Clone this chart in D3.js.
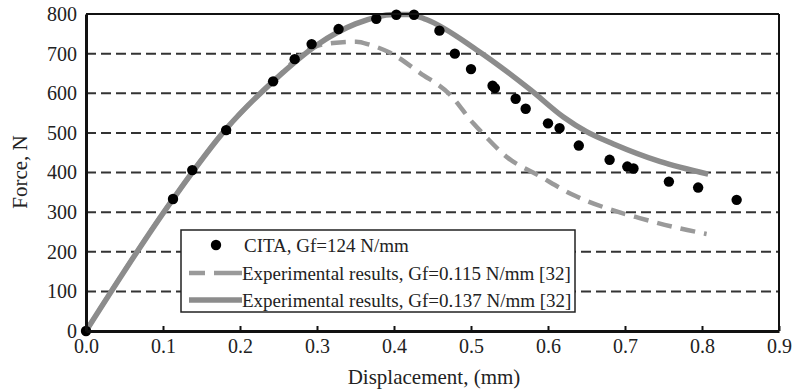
<!DOCTYPE html>
<html>
<meta charset="utf-8">
<style>
  body { margin: 0; background: #fff; }
  text { font-family: "Liberation Serif", "Times New Roman", serif; fill: #222; }
</style>
<body>
<script src="https://d3js.org/d3.v7.min.js"></script>
<script>
// data (displacement mm, force N)
const citaX = [0, 0.113, 0.138, 0.182, 0.243, 0.271, 0.293, 0.328, 0.377, 0.403, 0.426, 0.459, 0.479, 0.500, 0.528, 0.531, 0.558, 0.571, 0.600, 0.615, 0.640, 0.680, 0.703, 0.711, 0.757, 0.795, 0.845];
const citaY = [0, 333, 406, 507, 630, 686, 724, 762, 788, 798, 798, 758, 700, 661, 619, 613, 586, 561, 524, 512, 468, 432, 415, 410, 377, 362, 331];

const exp115X = [0, 0.113, 0.182, 0.243, 0.295, 0.321, 0.351, 0.369, 0.395, 0.434, 0.473, 0.503, 0.518, 0.546, 0.590, 0.633, 0.676, 0.719, 0.771, 0.806];
const exp115Y = [0, 333, 510, 630, 716, 727, 730, 722, 702, 651, 596, 524, 493, 440, 390, 343, 310, 285, 259, 245];

const exp137X = [0, 0.113, 0.182, 0.243, 0.300, 0.350, 0.400, 0.420, 0.442, 0.507, 0.577, 0.620, 0.650, 0.685, 0.745, 0.808];
const exp137Y = [0, 333, 510, 630, 722, 775, 799, 799, 786, 710, 609, 540, 503, 472, 428, 396];

const xTicks = [0, 0.1, 0.2, 0.3, 0.4, 0.5, 0.6, 0.7, 0.8, 0.9];
const yTicks = [0, 100, 200, 300, 400, 500, 600, 700, 800];
const legendLabels = ["CITA, Gf=124 N/mm", "Experimental results, Gf=0.115 N/mm [32]", "Experimental results, Gf=0.137 N/mm [32]"];

const W = 798, H = 391;
const x = d3.scaleLinear().domain([0, 0.9]).range([86, 779]);
const y = d3.scaleLinear().domain([0, 800]).range([331, 14]);

const svg = d3.select("body").append("svg").attr("width", W).attr("height", H);

// dashed grid lines
svg.append("g").selectAll("line")
  .data(yTicks.filter(d => d > 0 && d < 800))
  .enter().append("line")
  .attr("x1", x(0)).attr("x2", x(0.9))
  .attr("y1", d => y(d)).attr("y2", d => y(d))
  .attr("stroke", "#333").attr("stroke-width", 2)
  .attr("stroke-dasharray", "10,5");

const line = d3.line().x(d => x(d[0])).y(d => y(d[1])).curve(d3.curveMonotoneX);

svg.append("path")
  .datum(d3.zip(exp115X, exp115Y))
  .attr("d", line)
  .attr("fill", "none")
  .attr("stroke", "#9a9a9a").attr("stroke-width", 4.5)
  .attr("stroke-dasharray", "15,9");

svg.append("path")
  .datum(d3.zip(exp137X, exp137Y))
  .attr("d", line)
  .attr("fill", "none")
  .attr("stroke", "#8c8c8c").attr("stroke-width", 5.5);

svg.append("g").selectAll("circle")
  .data(d3.zip(citaX, citaY))
  .enter().append("circle")
  .attr("cx", d => x(d[0])).attr("cy", d => y(d[1]))
  .attr("r", 5.2).attr("fill", "#000");

// frame
svg.append("line").attr("x1", x(0)).attr("x2", x(0.9)).attr("y1", y(800)).attr("y2", y(800))
  .attr("stroke", "#111").attr("stroke-width", 2);
svg.append("line").attr("x1", x(0.9)).attr("x2", x(0.9)).attr("y1", y(800)).attr("y2", y(0))
  .attr("stroke", "#111").attr("stroke-width", 2);

// axes
const xAxis = svg.append("g").attr("transform", `translate(0,${y(0)})`)
  .call(d3.axisBottom(x).tickValues(xTicks).tickFormat(d3.format(".1f")).tickSizeInner(-5).tickSizeOuter(0).tickPadding(8));
const yAxis = svg.append("g").attr("transform", `translate(${x(0)},0)`)
  .call(d3.axisLeft(y).tickValues(yTicks).tickSizeInner(0).tickSizeOuter(0).tickPadding(9));
[xAxis, yAxis].forEach(a => {
  a.select(".domain").attr("stroke", "#111").attr("stroke-width", 3);
  a.selectAll(".tick line").attr("stroke", "#111").attr("stroke-width", 2);
  a.selectAll(".tick text").attr("font-size", 20).attr("font-family", "Liberation Serif").attr("fill", "#222");
});

svg.append("text").attr("x", 434).attr("y", 384).attr("text-anchor", "middle")
  .attr("font-size", 21).text("Displacement, (mm)");
svg.append("text").attr("transform", "translate(27,172) rotate(-90)").attr("text-anchor", "middle")
  .attr("font-size", 21).text("Force, N");

// legend
const lg = svg.append("g");
lg.append("rect").attr("x", 181).attr("y", 230).attr("width", 394).attr("height", 82)
  .attr("fill", "#fff").attr("stroke", "#222").attr("stroke-width", 1.5);
const rowY = [245, 273, 300];
lg.append("circle").attr("cx", 216).attr("cy", rowY[0]).attr("r", 5.2).attr("fill", "#000");
lg.append("line").attr("x1", 189).attr("x2", 242).attr("y1", rowY[1]).attr("y2", rowY[1])
  .attr("stroke", "#9a9a9a").attr("stroke-width", 4.5).attr("stroke-dasharray", "16,9,40");
lg.append("line").attr("x1", 189).attr("x2", 242).attr("y1", rowY[2]).attr("y2", rowY[2])
  .attr("stroke", "#8c8c8c").attr("stroke-width", 5.5);
lg.selectAll("text.lab").data(legendLabels).enter().append("text").attr("class", "lab")
  .attr("x", (d, i) => i === 0 ? 244 : 242).attr("y", (d, i) => rowY[i]).attr("dy", "0.35em")
  .attr("font-size", 19).text(d => d);
</script>
</body>
</html>
